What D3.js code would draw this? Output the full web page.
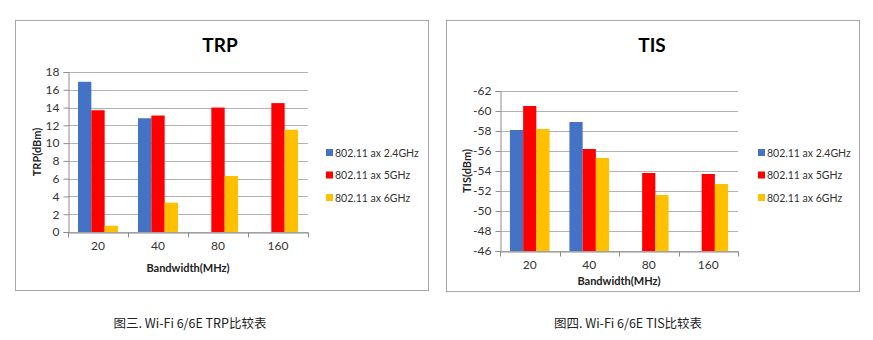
<!DOCTYPE html>
<html>
<head>
<meta charset="utf-8">
<script src="https://cdn.jsdelivr.net/npm/d3@7"></script>
<style>
  body { margin: 0; background: #fff; }
  svg { display: block; }
</style>
</head>
<body>
<svg id="chart" width="873" height="340"></svg>
<script>
// data
const bandwidths = ["20", "40", "80", "160"];
const seriesNames = ["802.11 ax 2.4GHz", "802.11 ax 5GHz", "802.11 ax 6GHz"];
const seriesColors = ["#4472C4", "#FF0000", "#FFC000"];

const trp24 = [16.9, 12.8, null, null];
const trp5 = [13.7, 13.1, 14.0, 14.5];
const trp6 = [0.7, 3.3, 6.3, 11.5];
const trpTicks = [0, 2, 4, 6, 8, 10, 12, 14, 16, 18];

const tis24 = [-58.1, -58.9, null, null];
const tis5 = [-60.5, -56.2, -53.8, -53.7];
const tis6 = [-58.2, -55.3, -51.6, -52.7];
const tisTicks = [-46, -48, -50, -52, -54, -56, -58, -60, -62];

const captions = ["图三. Wi-Fi 6/6E TRP比较表", "图四. Wi-Fi 6/6E TIS比较表"];

const svg = d3.select("#chart");
const font = "Lato, 'Open Sans', sans-serif";

function drawChart(opt) {
  const g = svg.append("g");

  // outer frame
  g.append("rect")
    .attr("x", opt.frame[0] + 0.5).attr("y", opt.frame[1] + 0.5)
    .attr("width", opt.frame[2]).attr("height", opt.frame[3])
    .attr("fill", "#fff").attr("stroke", "#a6a6a6");

  const x = d3.scaleBand().domain(bandwidths).range([opt.plot.left, opt.plot.right]);
  const xs = d3.scaleBand().domain(seriesNames)
    .range([0, x.bandwidth()]).paddingOuter(0.75).paddingInner(0);
  const y = d3.scaleLinear().domain(opt.domain).range([opt.plot.bottom, opt.plot.top]);

  // gridlines
  g.append("g").selectAll("line").data(opt.ticks).join("line")
    .attr("x1", opt.plot.left).attr("x2", opt.plot.right)
    .attr("y1", d => Math.round(y(d)) + 0.5).attr("y2", d => Math.round(y(d)) + 0.5)
    .attr("stroke", "#b3b3b3").attr("stroke-width", 1);

  // bars
  const series = [opt.values[0], opt.values[1], opt.values[2]];
  series.forEach((vals, si) => {
    g.append("g").selectAll("rect")
      .data(bandwidths.map((b, i) => ({ b, v: vals[i] })).filter(d => d.v != null))
      .join("rect")
      .attr("x", d => x(d.b) + xs(seriesNames[si]))
      .attr("width", xs.bandwidth())
      .attr("y", d => y(d.v))
      .attr("height", d => opt.plot.bottom - y(d.v))
      .attr("fill", seriesColors[si]);
  });

  // y axis
  const yAxis = g.append("g")
    .attr("transform", `translate(${opt.plot.left + 0.5},0)`)
    .call(d3.axisLeft(y).tickValues(opt.ticks).tickSize(5).tickPadding(4)
      .tickFormat(d => String(d)));
  yAxis.select(".domain").attr("stroke", "#8c8c8c");
  yAxis.selectAll(".tick line").attr("stroke", "#8c8c8c");
  yAxis.selectAll("text").attr("font-family", font).attr("font-size", 12).attr("fill", "#333");

  // x axis
  const xAxis = g.append("g")
    .attr("transform", `translate(0,${opt.plot.bottom + 0.5})`)
    .call(d3.axisBottom(x).tickSize(0).tickPadding(9).tickSizeOuter(0));
  xAxis.select(".domain").attr("stroke", "#8c8c8c");
  xAxis.selectAll("text").attr("font-family", font).attr("font-size", 12).attr("fill", "#333");
  xAxis.selectAll(".bound").data(bandwidths.concat(["end"])).join("line")
    .attr("class", "bound")
    .attr("x1", (d, i) => Math.round(opt.plot.left + i * x.step()) + 0.5)
    .attr("x2", (d, i) => Math.round(opt.plot.left + i * x.step()) + 0.5)
    .attr("y1", 0).attr("y2", 5)
    .attr("stroke", "#8c8c8c");

  // titles
  g.append("text")
    .attr("x", opt.titleX).attr("y", 52)
    .attr("text-anchor", "middle")
    .attr("font-family", font).attr("font-weight", "bold").attr("font-size", 19)
    .attr("fill", "#000").text(opt.title);

  g.append("text")
    .attr("x", (opt.plot.left + opt.plot.right) / 2).attr("y", opt.xTitleY)
    .attr("text-anchor", "middle")
    .attr("font-family", font).attr("font-weight", "bold").attr("font-size", 11)
    .attr("fill", "#222").text("Bandwidth(MHz)");

  g.append("text")
    .attr("transform", `translate(${opt.yTitleX},${(opt.plot.top + opt.plot.bottom) / 2}) rotate(-90)`)
    .attr("text-anchor", "middle").attr("dy", "0.35em")
    .attr("font-family", font).attr("font-weight", "bold").attr("font-size", 11)
    .attr("fill", "#222").text(opt.yTitle);

  // legend
  const lg = g.append("g").selectAll("g").data(seriesNames).join("g")
    .attr("transform", (d, i) => `translate(${opt.legendX},${153 + i * 22.5})`);
  lg.append("rect").attr("x", 0).attr("y", -4).attr("width", 7).attr("height", 7)
    .attr("fill", (d, i) => seriesColors[i]);
  lg.append("text").attr("x", 9).attr("dy", "0.35em")
    .attr("font-family", font).attr("font-size", 10.5).attr("fill", "#333")
    .text(d => d);

  // caption
  svg.append("text")
    .attr("x", opt.captionX).attr("y", 328)
    .attr("text-anchor", "middle")
    .attr("font-family", "'Noto Sans CJK SC', sans-serif").attr("font-size", 12.5)
    .attr("fill", "#222").text(opt.caption);
}

drawChart({
  frame: [15, 20, 413, 270],
  plot: { left: 68, right: 308, top: 72, bottom: 232 },
  domain: [0, 18],
  ticks: trpTicks,
  values: [trp24, trp5, trp6],
  title: "TRP", titleX: 220,
  yTitle: "TRP(dBm)", yTitleX: 37,
  xTitleY: 272,
  legendX: 326,
  caption: captions[0], captionX: 190
});

drawChart({
  frame: [446, 20, 413, 271],
  plot: { left: 500, right: 738, top: 91, bottom: 251 },
  domain: [-46, -62],
  ticks: tisTicks,
  values: [tis24, tis5, tis6],
  title: "TIS", titleX: 652,
  yTitle: "TIS(dBm)", yTitleX: 467,
  xTitleY: 285,
  legendX: 758,
  caption: captions[1], captionX: 628
});
</script>
</body>
</html>
